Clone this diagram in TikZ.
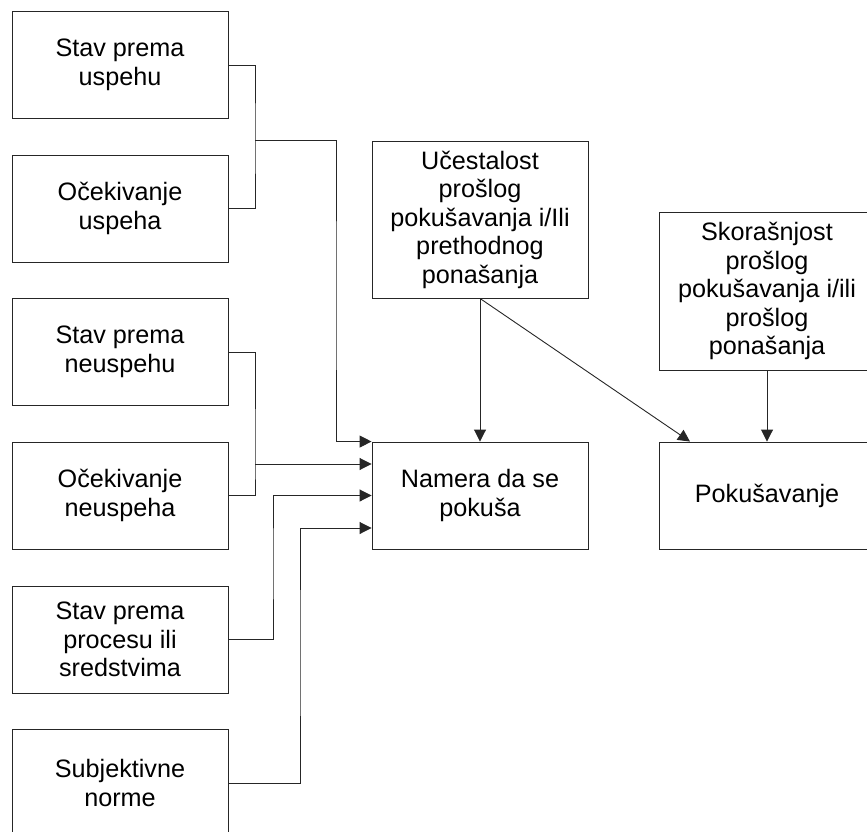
\documentclass[tikz,border=0pt]{standalone}
\usepackage{fontspec}
\setmainfont{Liberation Sans}
\usetikzlibrary{arrows.meta}
\begin{document}
\begin{tikzpicture}[x=1pt,y=-1pt,
  box/.style={draw=black!85, line width=0.9pt, fill=white, align=center,
    inner sep=2pt, font=\fontsize{25.2}{28.5}\selectfont},
  smallbox/.style={box, minimum width=216pt, minimum height=107pt},
  bigbox/.style={box, minimum width=216pt, minimum height=157pt},
  wire/.style={draw=black!85, line width=0.9pt},
  arr/.style={wire, -{Triangle[length=12pt,width=12pt]}}]
\useasboundingbox (0,0) rectangle (867,832);

% factor boxes on the left
\node[smallbox] (l1) at (120,65)    {Stav prema\\uspehu};
\node[smallbox] (l2) at (120,208.5) {Očekivanje\\uspeha};
\node[smallbox] (l3) at (120,352)   {Stav prema\\neuspehu};
\node[smallbox] (l4) at (120,495.5) {Očekivanje\\neuspeha};
\node[smallbox] (l5) at (120,639.5) {Stav prema\\procesu ili\\sredstvima};
\node[smallbox] (l6) at (120,783)   {Subjektivne\\norme};

% intention, past behaviour and outcome
\node[smallbox] (nam) at (480,495.5) {Namera da se\\pokuša};
\node[bigbox] (uce) at (480,219.5) {Učestalost\\prošlog\\pokušavanja i/Ili\\prethodnog\\ponašanja};
\node[bigbox, minimum height=158pt] (sko) at (767,291) {Skorašnjost\\prošlog\\pokušavanja i/ili\\prošlog\\ponašanja};
\node[smallbox] (pok) at (767,495.5) {Pokušavanje};

% junction points of the bracket connectors
\coordinate (b1) at (255,140);
\coordinate (c1) at (336,300);
\coordinate (b2) at (255,464);
\coordinate (c3) at (273,560);
\coordinate (c4) at (300,650);

% success pair
\draw[wire] (l1.east) -| (b1) |- (l2.east);
\draw[arr] (b1) -| (c1) |- (nam.north west);
% failure pair
\draw[wire] (l3.east) -| (b2) |- (l4.east);
\draw[arr] (b2) -- (b2 -| nam.west);
% process attitude and subjective norms
\draw[arr] (l5.east) -| (c3) |- (nam.west);
\draw[arr] (l6.east) -| (c4) |- ([yshift=-32.5pt]nam.west);

% past behaviour effects
\draw[arr] (uce.south) -- (nam.north);
\draw[arr] (uce.south) -- ([xshift=-77pt]pok.north);
\draw[arr] (sko.south) -- (pok.north);
\end{tikzpicture}
\end{document}
